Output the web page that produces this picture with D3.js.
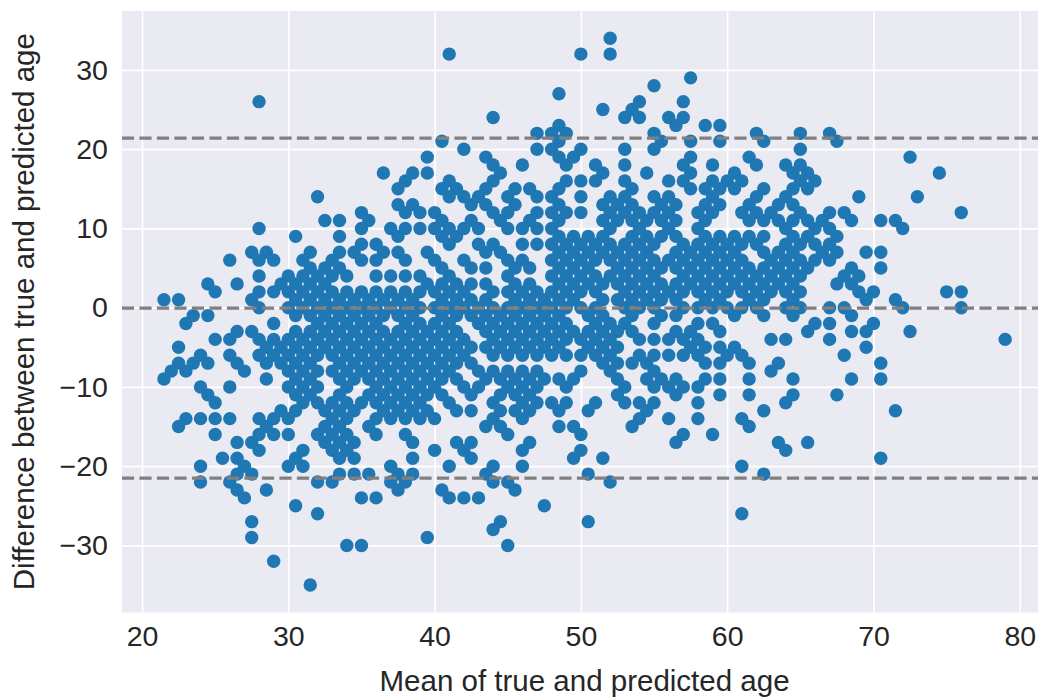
<!DOCTYPE html>
<html>
<head>
<meta charset="utf-8">
<script src="https://cdn.jsdelivr.net/npm/d3@7"></script>
<style>
  html, body { margin: 0; padding: 0; background: #ffffff; }
  svg { display: block; }
  text { font-family: "Liberation Sans", Arial, sans-serif; fill: #262626; }
</style>
</head>
<body>
<svg id="chart" width="1038" height="697"></svg>
<script>
// Bland–Altman data: each row is [difference (true − predicted), means of true and predicted age]
const upperRows = [
  [34, [52]],
  [32, [41, 50, 52]],
  [29, [57.5]],
  [28, [55]],
  [27, [48.5]],
  [26, [28, 54, 57]],
  [25, [51.5, 53.5]],
  [24, [44, 53, 54, 56, 57]],
  [23, [48.5, 56.5, 58.5, 59.5]],
  [22, [47, 48, 49, 55, 62, 65, 67]],
  [21, [40.5, 48.5, 55.5, 57.5, 59.5, 62.5, 67.5]],
  [20, [42, 47, 48, 50, 53, 55, 65]],
  [19, [39.5, 43.5, 48.5, 49.5, 57.5, 61.5, 72.5]],
  [18, [44, 46, 49, 51, 53, 57, 59, 62, 64, 65]],
  [17, [36.5, 38.5, 39.5, 44.5, 51.5, 54.5, 57.5, 60.5, 64.5, 65.5, 74.5]],
  [16, [38, 41, 44, 49, 50, 51, 53, 56, 57, 59, 60, 61, 65, 66]],
  [15, [37.5, 40.5, 41.5, 43.5, 45.5, 46.5, 48.5, 53.5, 57.5, 58.5, 59.5, 60.5, 62.5, 64.5, 65.5]],
  [14, [32, 41, 42, 43, 45, 47, 48, 50, 52, 53, 55, 56, 59, 62, 64, 69, 73]],
  [13, [37.5, 38.5, 42.5, 43.5, 45.5, 48.5, 51.5, 52.5, 53.5, 55.5, 56.5, 58.5, 59.5, 61.5, 63.5, 64.5]],
  [12, [35, 38, 39, 40, 44, 45, 47, 48, 49, 50, 52, 53, 54, 55, 56, 58, 59, 61, 62, 63, 65, 67, 68, 76]],
  [11, [32.5, 33.5, 35.5, 40.5, 42.5, 44.5, 46.5, 48.5, 51.5, 52.5, 53.5, 54.5, 55.5, 56.5, 58.5, 61.5, 62.5, 63.5, 64.5, 65.5, 66.5, 68.5, 70.5, 71.5]],
  [10, [28, 35, 37, 38, 39, 40, 41, 42, 43, 45, 46, 47, 48, 52, 54, 56, 58, 64, 66, 67, 72]],
  [9, [30.5, 33.5, 37.5, 40.5, 41.5, 48.5, 49.5, 50.5, 51.5, 53.5, 54.5, 55.5, 56.5, 58.5, 59.5, 60.5, 61.5, 62.5, 64.5, 65.5, 67.5]],
  [8, [35, 36, 41, 43, 44, 46, 47, 48, 49, 50, 51, 52, 53, 54, 55, 57, 58, 59, 60, 61, 62, 64, 65, 66, 67]],
  [7, [27.5, 28.5, 31.5, 33.5, 34.5, 36.5, 37.5, 39.5, 43.5, 44.5, 48.5, 49.5, 50.5, 51.5, 52.5, 53.5, 54.5, 56.5, 57.5, 58.5, 59.5, 60.5, 62.5, 63.5, 64.5, 66.5, 67.5, 69.5, 70.5]],
  [6, [26, 28, 29, 31, 33, 35, 36, 38, 40, 42, 45, 46, 48, 49, 50, 51, 52, 53, 54, 55, 56, 57, 58, 59, 60, 61, 63, 64, 65, 66, 67]],
  [5, [31.5, 32.5, 33.5, 40.5, 42.5, 43.5, 45.5, 46.5, 48.5, 49.5, 50.5, 52.5, 53.5, 54.5, 55.5, 56.5, 57.5, 58.5, 59.5, 60.5, 61.5, 62.5, 63.5, 64.5, 65.5, 68.5, 70.5]],
  [4, [28, 30, 31, 32, 33, 34, 36, 37, 38, 39, 41, 45, 48, 49, 50, 51, 52, 53, 54, 55, 57, 58, 59, 60, 61, 62, 63, 64, 65, 68, 69]],
  [3, [24.5, 26.5, 29.5, 30.5, 31.5, 32.5, 39.5, 40.5, 41.5, 42.5, 43.5, 45.5, 46.5, 48.5, 49.5, 50.5, 51.5, 52.5, 53.5, 54.5, 55.5, 56.5, 57.5, 58.5, 59.5, 60.5, 61.5, 62.5, 63.5, 64.5, 67.5, 68.5]],
  [2, [25, 28, 29, 30, 31, 32, 33, 34, 35, 36, 37, 38, 39, 40, 41, 42, 44, 45, 46, 47, 48, 49, 50, 51, 53, 54, 55, 56, 57, 58, 59, 60, 61, 62, 63, 64, 65, 69, 70, 75, 76]],
  [1, [21.5, 22.5, 27.5, 30.5, 31.5, 32.5, 33.5, 34.5, 35.5, 36.5, 37.5, 38.5, 40.5, 41.5, 42.5, 43.5, 45.5, 46.5, 47.5, 48.5, 49.5, 51.5, 52.5, 53.5, 54.5, 55.5, 56.5, 58.5, 59.5, 61.5, 62.5, 64.5, 69.5, 71.5]],
  [0, [28, 30, 31, 32, 33, 34, 35, 36, 37, 38, 39, 40, 41, 42, 43, 44, 45, 46, 47, 48, 49, 50, 51, 53, 54, 55, 57, 58, 59, 60, 61, 62, 64, 65, 67, 68, 72, 76]]
];

const lowerRows = [
  [-1, [23.5, 24.5, 30.5, 31.5, 32.5, 33.5, 34.5, 35.5, 36.5, 37.5, 38.5, 40.5, 41.5, 42.5, 43.5, 44.5, 45.5, 46.5, 47.5, 48.5, 50.5, 51.5, 53.5, 55.5, 56.5, 60.5, 62.5, 64.5, 68.5]],
  [-2, [23, 29, 32, 33, 34, 35, 36, 38, 39, 40, 41, 43, 44, 45, 46, 47, 48, 49, 51, 52, 53, 55, 58, 59, 66, 67, 70]],
  [-3, [26.5, 27.5, 30.5, 31.5, 32.5, 33.5, 34.5, 35.5, 36.5, 37.5, 38.5, 39.5, 40.5, 41.5, 43.5, 44.5, 45.5, 46.5, 47.5, 48.5, 49.5, 50.5, 51.5, 52.5, 53.5, 56.5, 57.5, 59.5, 65.5, 68.5, 69.5, 72.5]],
  [-4, [25, 26, 28, 29, 30, 31, 32, 33, 34, 35, 36, 37, 38, 39, 40, 41, 42, 44, 45, 46, 47, 48, 49, 50, 51, 52, 54, 55, 56, 57, 58, 63, 64, 67, 79]],
  [-5, [22.5, 28.5, 29.5, 30.5, 31.5, 32.5, 33.5, 34.5, 35.5, 36.5, 37.5, 38.5, 39.5, 40.5, 41.5, 42.5, 43.5, 44.5, 45.5, 46.5, 47.5, 48.5, 50.5, 51.5, 52.5, 57.5, 58.5, 59.5, 60.5, 69.5]],
  [-6, [24, 26, 28, 29, 30, 31, 32, 33, 34, 35, 36, 37, 38, 39, 40, 41, 42, 44, 45, 46, 47, 48, 49, 50, 51, 52, 54, 55, 56, 57, 58, 60, 61, 68]],
  [-7, [22.5, 23.5, 24.5, 26.5, 28.5, 29.5, 30.5, 31.5, 33.5, 34.5, 35.5, 36.5, 37.5, 38.5, 39.5, 40.5, 41.5, 42.5, 51.5, 52.5, 53.5, 54.5, 58.5, 59.5, 61.5, 63.5, 70.5]],
  [-8, [22, 23, 27, 30, 31, 32, 33, 34, 35, 36, 37, 38, 39, 40, 41, 43, 44, 45, 46, 47, 50, 52, 55, 63]],
  [-9, [21.5, 28.5, 30.5, 31.5, 33.5, 34.5, 35.5, 36.5, 37.5, 38.5, 39.5, 40.5, 41.5, 43.5, 44.5, 45.5, 46.5, 47.5, 48.5, 49.5, 52.5, 54.5, 55.5, 56.5, 58.5, 59.5, 61.5, 64.5, 68.5, 70.5]],
  [-10, [24, 26, 30, 31, 32, 34, 36, 37, 38, 39, 40, 42, 43, 45, 46, 47, 49, 53, 55, 56, 57, 58]],
  [-11, [24.5, 30.5, 31.5, 33.5, 35.5, 36.5, 37.5, 38.5, 39.5, 40.5, 42.5, 44.5, 45.5, 46.5, 52.5, 56.5, 59.5, 61.5, 64.5, 67.5]],
  [-12, [25, 31, 32, 33, 34, 35, 36, 37, 38, 39, 41, 44, 46, 47, 48, 49, 51, 53, 54, 55, 58, 64]],
  [-13, [29.5, 30.5, 32.5, 33.5, 34.5, 36.5, 37.5, 38.5, 39.5, 41.5, 42.5, 44.5, 45.5, 46.5, 48.5, 50.5, 54.5, 62.5, 71.5]],
  [-14, [23, 24, 25, 26, 28, 29, 30, 33, 34, 36, 37, 38, 39, 40, 44, 46, 54, 56, 58, 61]],
  [-15, [22.5, 28.5, 32.5, 33.5, 35.5, 43.5, 44.5, 48.5, 49.5, 53.5, 61.5]],
  [-16, [25, 28, 29, 30, 32, 33, 34, 36, 38, 45, 50, 57, 59]],
  [-17, [26.5, 27.5, 32.5, 33.5, 34.5, 38.5, 41.5, 42.5, 46.5, 56.5, 63.5, 65.5]],
  [-18, [28, 31, 33, 34, 40, 42, 46, 50, 64]],
  [-19, [25.5, 26.5, 30.5, 33.5, 34.5, 38.5, 42.5, 49.5, 51.5, 70.5]],
  [-20, [24, 27, 30, 31, 37, 41, 44, 46, 61]],
  [-21, [26.5, 27.5, 33.5, 34.5, 35.5, 37.5, 38.5, 43.5, 50.5, 62.5]],
  [-22, [24, 26, 32, 33, 37, 38, 44, 45, 52]],
  [-23, [26.5, 28.5, 37.5, 40.5, 45.5]],
  [-24, [27, 35, 36, 41, 42, 43]],
  [-25, [30.5, 47.5]],
  [-26, [32, 61]],
  [-27, [27.5, 44.5, 50.5]],
  [-28, [44]],
  [-29, [27.5, 39.5]],
  [-30, [34, 35, 45]],
  [-32, [29]],
  [-35, [31.5]]
];

// Mean difference and 95% limits of agreement
const meanDifference = -0.05;
const limitsOfAgreement = [21.4, -21.5];

const xTicks = [20, 30, 40, 50, 60, 70, 80];
const yTicks = [-30, -20, -10, 0, 10, 20, 30];

const xLabel = "Mean of true and predicted age";
const yLabel = "Difference between true and predicted age";

// ---- layout ----
const plot = { left: 121.9, right: 1047.2, top: 10.9, bottom: 612.4 };

const points = [];
for (const [diff, means] of upperRows.concat(lowerRows)) {
  for (const m of means) points.push({ mean: m, diff: diff });
}

const x = d3.scaleLinear().domain([18.625, 81.875]).range([plot.left, plot.right]);
const y = d3.scaleLinear().domain([-38.45, 37.45]).range([plot.bottom, plot.top]);

const svg = d3.select("#chart");

svg.append("defs").append("clipPath").attr("id", "plot-clip")
  .append("rect")
  .attr("x", plot.left).attr("y", plot.top)
  .attr("width", plot.right - plot.left).attr("height", plot.bottom - plot.top);

// axes background
svg.append("rect")
  .attr("x", plot.left).attr("y", plot.top)
  .attr("width", plot.right - plot.left).attr("height", plot.bottom - plot.top)
  .attr("fill", "#eaeaf2");

// grid lines
const grid = svg.append("g").attr("clip-path", "url(#plot-clip)");
grid.append("g")
  .attr("transform", `translate(0,${plot.bottom})`)
  .call(d3.axisBottom(x).tickValues(xTicks).tickSize(-(plot.bottom - plot.top)).tickFormat(""))
  .call(g => g.select(".domain").remove())
  .call(g => g.selectAll("line").attr("stroke", "#ffffff").attr("stroke-width", 1.7));
grid.append("g")
  .attr("transform", `translate(${plot.left},0)`)
  .call(d3.axisLeft(y).tickValues(yTicks).tickSize(-(plot.right - plot.left)).tickFormat(""))
  .call(g => g.select(".domain").remove())
  .call(g => g.selectAll("line").attr("stroke", "#ffffff").attr("stroke-width", 1.7));

// scatter points
svg.append("g").attr("clip-path", "url(#plot-clip)")
  .selectAll("circle")
  .data(points)
  .join("circle")
  .attr("cx", d => x(d.mean))
  .attr("cy", d => y(d.diff))
  .attr("r", 6.7)
  .attr("fill", "#1f77b4");

// mean and limits-of-agreement lines
svg.append("g").attr("clip-path", "url(#plot-clip)")
  .selectAll("line")
  .data([limitsOfAgreement[0], meanDifference, limitsOfAgreement[1]])
  .join("line")
  .attr("x1", plot.left).attr("x2", plot.right)
  .attr("y1", d => y(d)).attr("y2", d => y(d))
  .attr("stroke", "#808080")
  .attr("stroke-width", 3.3)
  .attr("stroke-dasharray", "12.2,5.3");

// tick labels
const xAxis = svg.append("g")
  .attr("transform", `translate(0,${plot.bottom})`)
  .call(d3.axisBottom(x).tickValues(xTicks).tickSize(0).tickPadding(0).tickFormat(d3.format("d")));
xAxis.select(".domain").remove();
xAxis.selectAll("text")
  .attr("font-size", 28.5)
  .attr("font-family", '"Liberation Sans", Arial, sans-serif')
  .attr("fill", "#262626")
  .attr("dy", null)
  .attr("y", 34);

const yAxis = svg.append("g")
  .attr("transform", `translate(${plot.left},0)`)
  .call(d3.axisLeft(y).tickValues(yTicks).tickSize(0).tickPadding(14));
yAxis.select(".domain").remove();
yAxis.selectAll("text")
  .attr("font-size", 28.5)
  .attr("font-family", '"Liberation Sans", Arial, sans-serif')
  .attr("fill", "#262626");

// axis titles
svg.append("text")
  .attr("x", (plot.left + plot.right) / 2)
  .attr("y", 691)
  .attr("text-anchor", "middle")
  .attr("font-size", 29.5)
  .text(xLabel);

svg.append("text")
  .attr("transform", `translate(34,${(plot.top + plot.bottom) / 2}) rotate(-90)`)
  .attr("text-anchor", "middle")
  .attr("font-size", 29.5)
  .text(yLabel);
</script>
</body>
</html>
